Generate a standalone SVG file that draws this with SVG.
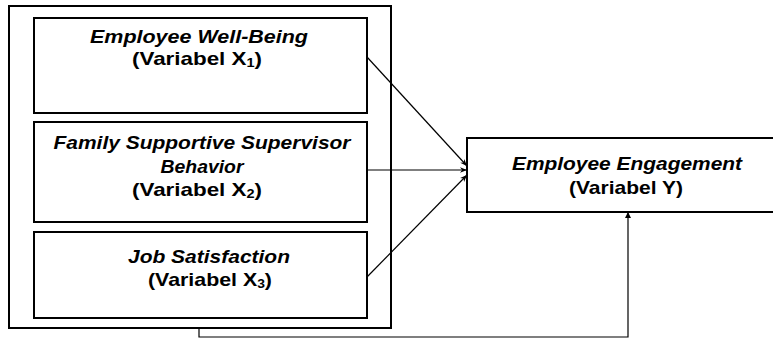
<svg xmlns="http://www.w3.org/2000/svg" width="773" height="340" viewBox="0 0 773 340">
<style>
.box{fill:#fff;stroke:#000;stroke-width:2}
.t{font-family:"Liberation Sans",Arial,sans-serif;font-weight:bold;font-size:18.5px;fill:#000;text-anchor:middle}
.i{font-style:italic}
.sub{font-size:12px}
.c{fill:none;stroke:#000;stroke-width:1.2}
</style>
<defs>
<marker id="ah" viewBox="0 0 10 10" refX="10" refY="5" markerWidth="10" markerHeight="7" markerUnits="userSpaceOnUse" orient="auto">
<path d="M0,1 L10,5 L0,9 L3,5 Z" fill="#000"/>
</marker>
<marker id="ah2" viewBox="0 0 10 10" refX="10" refY="5" markerWidth="6" markerHeight="7" markerUnits="userSpaceOnUse" orient="auto">
<path d="M0,0 L10,5 L0,10 Z" fill="#000"/>
</marker>
</defs>
<rect id="outer" class="box" x="9" y="6" width="382" height="322"/>
<g id="connectors">
<line class="c" x1="367" y1="57" x2="467" y2="166" marker-end="url(#ah)"/>
<line class="c" x1="367" y1="170" x2="467" y2="170" marker-end="url(#ah)"/>
<line class="c" x1="367" y1="277" x2="467" y2="175" marker-end="url(#ah)"/>
<polyline class="c" points="199,328 199,337 628,337 628,212" stroke-width="2" marker-end="url(#ah2)"/>
</g>
<g id="x1">
<rect class="box" x="34" y="18" width="333" height="95"/>
<text class="t i" x="199" y="43" textLength="218" lengthAdjust="spacingAndGlyphs">Employee Well-Being</text>
<text class="t" x="197" y="65" textLength="130" lengthAdjust="spacingAndGlyphs">(Variabel X<tspan class="sub" dy="2">1</tspan><tspan dy="-2">)</tspan></text>
</g>
<g id="x2">
<rect class="box" x="34" y="122" width="333" height="100"/>
<text class="t i" x="202" y="149" textLength="297" lengthAdjust="spacingAndGlyphs">Family Supportive Supervisor</text>
<text class="t i" x="202" y="173" textLength="83" lengthAdjust="spacingAndGlyphs">Behavior</text>
<text class="t" x="197" y="196" textLength="130" lengthAdjust="spacingAndGlyphs">(Variabel X<tspan class="sub" dy="2">2</tspan><tspan dy="-2">)</tspan></text>
</g>
<g id="x3">
<rect class="box" x="34" y="232" width="333" height="86"/>
<text class="t i" x="209" y="263" textLength="162" lengthAdjust="spacingAndGlyphs">Job Satisfaction</text>
<text class="t" x="210" y="286" textLength="124" lengthAdjust="spacingAndGlyphs">(Variabel X<tspan class="sub" dy="2">3</tspan><tspan dy="-2">)</tspan></text>
</g>
<g id="y">
<rect class="box" x="467" y="138" width="310" height="74"/>
<text class="t i" x="627" y="170" textLength="230" lengthAdjust="spacingAndGlyphs">Employee Engagement</text>
<text class="t" x="626" y="194" textLength="114" lengthAdjust="spacingAndGlyphs">(Variabel Y)</text>
</g>
</svg>
